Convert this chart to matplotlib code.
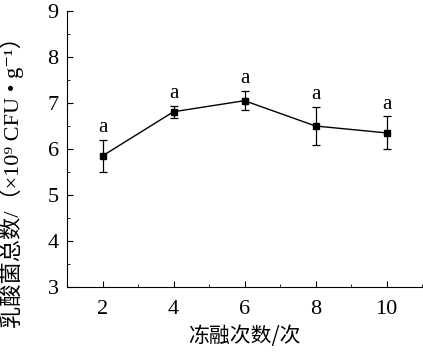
import matplotlib.pyplot as plt
from matplotlib.ticker import MultipleLocator

# freeze-thaw cycles and lactic acid bacteria counts
cycles = [2, 4, 6, 8, 10]
counts = [5.85, 6.81, 7.05, 6.5, 6.35]
errors = [0.35, 0.13, 0.21, 0.42, 0.36]
letters = ["a", "a", "a", "a", "a"]

plt.rcParams['font.family'] = ['Liberation Serif', 'Noto Sans CJK SC', 'DejaVu Serif']

fig = plt.figure(figsize=(4.23, 3.57), dpi=100)
ax = fig.add_axes([67 / 423, 1 - 287 / 357, (422 - 67) / 423, (287 - 11) / 357])

ax.errorbar(cycles, counts, yerr=errors, color='black', marker='s', markersize=5,
            linewidth=1.0, elinewidth=0.9, capsize=3, capthick=0.9)

for x, y, e, t in zip(cycles, counts, errors, letters):
    ax.text(x, y + e + 0.06, t, ha='center', va='bottom', fontsize=15)

ax.set_xlim(1, 11)
ax.set_ylim(3, 9)
ax.xaxis.set_major_locator(MultipleLocator(2))
ax.xaxis.set_minor_locator(MultipleLocator(1))
ax.yaxis.set_major_locator(MultipleLocator(1))
ax.yaxis.set_minor_locator(MultipleLocator(0.5))
ax.tick_params(which='both', direction='in', labelsize=16)
ax.tick_params(which='major', length=4)
ax.tick_params(which='minor', length=2.5)
ax.tick_params(axis='x', pad=9)
ax.tick_params(axis='y', pad=6)
ax.spines['top'].set_visible(False)
ax.spines['right'].set_visible(False)

ax.set_xlabel("冻融次数/次", fontsize=15, family=['Noto Sans CJK SC'], labelpad=5)
ax.set_ylabel("乳酸菌总数/（×10⁹ CFU • g⁻¹）", fontsize=16,
              family=['Liberation Serif', 'Noto Sans CJK SC', 'DejaVu Serif'])
ax.yaxis.set_label_coords(-0.12, 0.4)

fig.savefig("out.png", dpi=100)
